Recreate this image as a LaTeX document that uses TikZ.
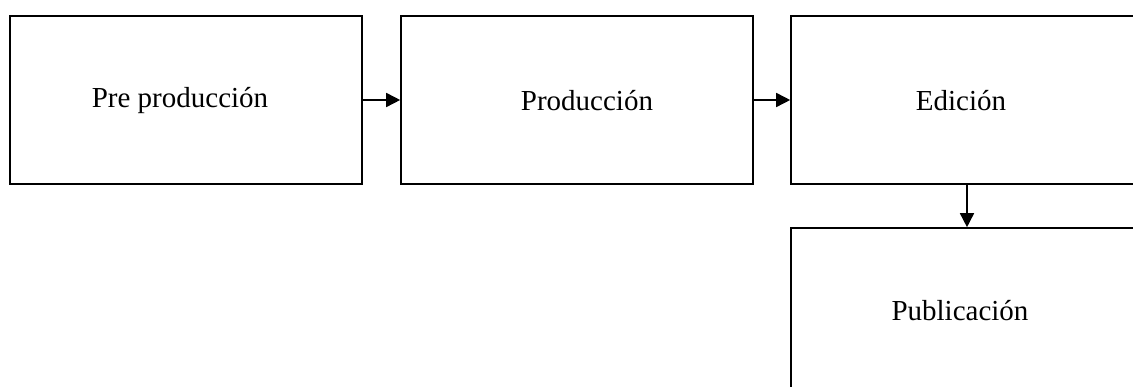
\documentclass[tikz,border=0pt]{standalone}
\usepackage{fontspec}
\setmainfont{Liberation Serif}
\usetikzlibrary{arrows.meta}
\begin{document}
\begin{tikzpicture}
[x=1pt,y=-1pt,
  boxDecorate/.style={shape=rectangle,draw,line width=1.6pt,inner sep=0pt,
    minimum width=352pt,minimum height=168pt},
  textDecorate/.style={inner sep=0pt,font=\fontsize{29}{34}\selectfont},
  lineDecorate/.style={-{Triangle[length=14pt,width=14pt]},line width=1.6pt}]
\useasboundingbox (0,0) rectangle (1133,387);
\clip (0,0) rectangle (1133,387);
%% boxes
\foreach \nodename/\x/\y in {
  preprod/186/100, prod/577/100, edicion/967/100, publicacion/967/312}
{
  \node (\nodename) at (\x,\y) [boxDecorate] {};
}
%% texts
\node (tpreprod) at (180,101) [textDecorate] {Pre producción};
\node (tprod) at (587,101) [textDecorate] {Producción};
\node (tedicion) at (961,101) [textDecorate] {Edición};
\node (tpublicacion) at (960,311) [textDecorate] {Publicación};
%% arrows
\path
\foreach \startnode/\endnode in {
  preprod/prod, prod/edicion, edicion/publicacion}
{
  (\startnode) edge[lineDecorate] (\endnode)
};
\end{tikzpicture}
\end{document}
